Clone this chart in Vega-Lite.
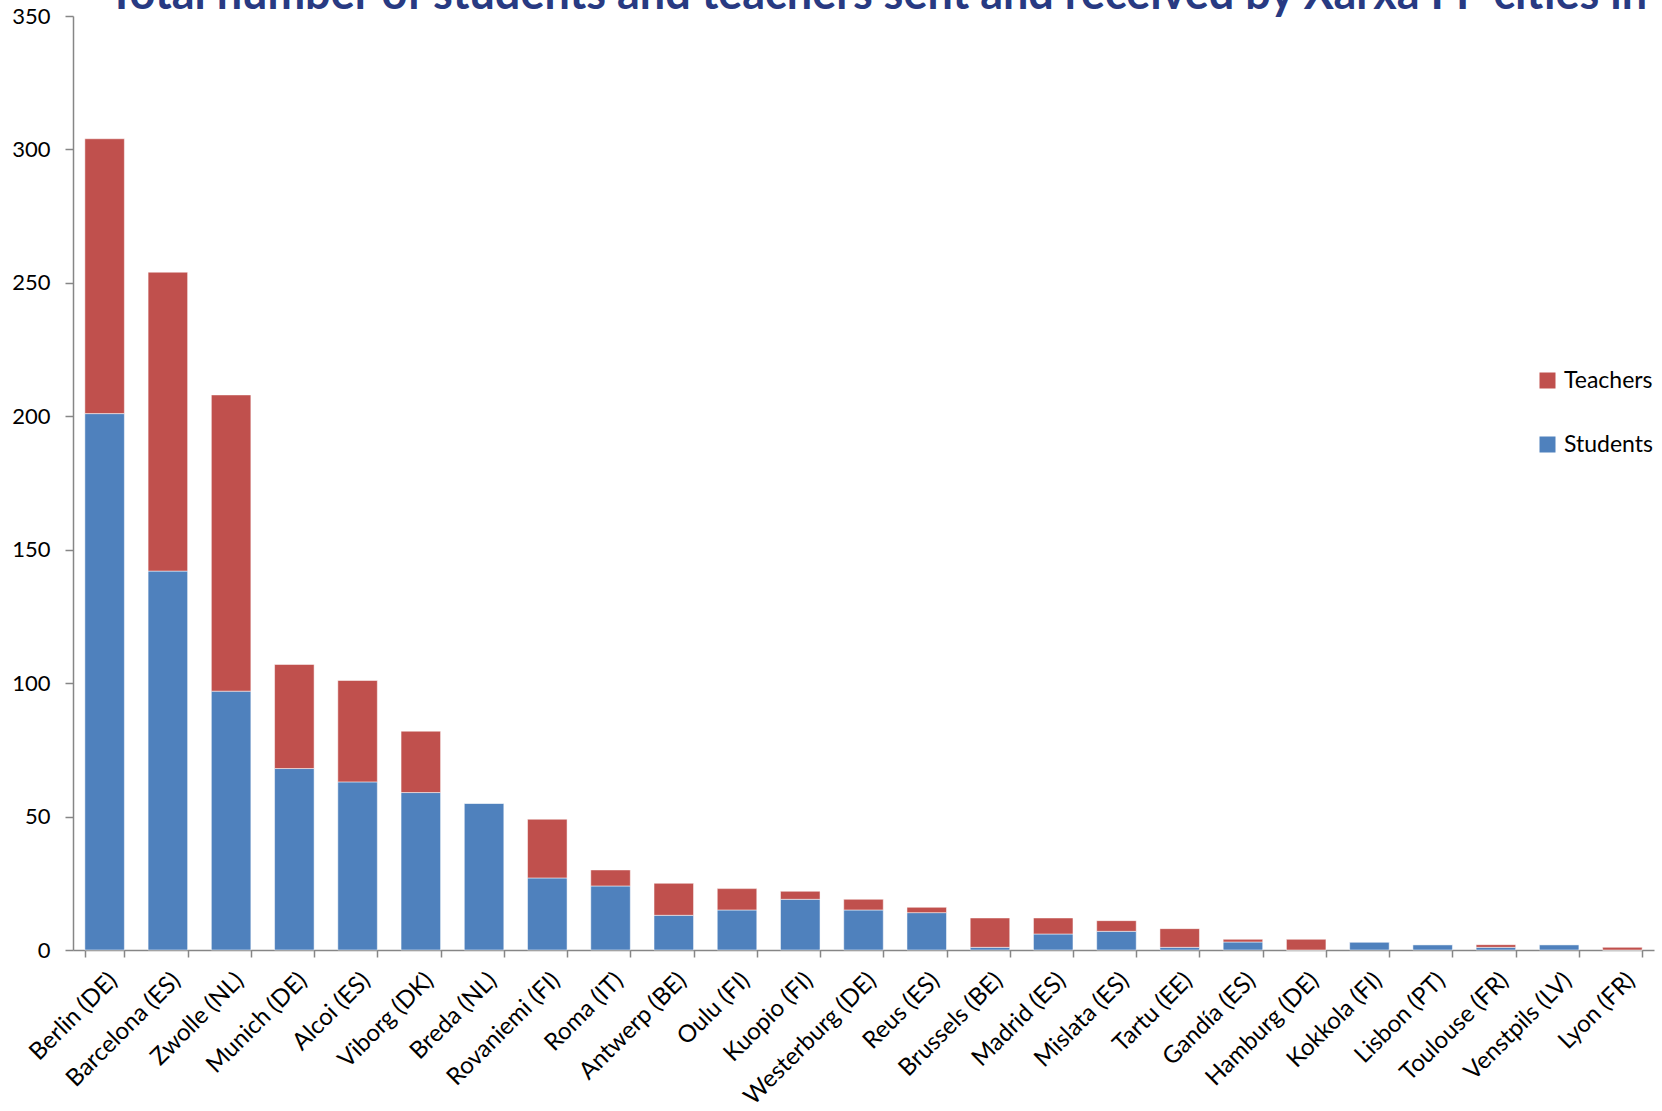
{
  "$schema": "https://vega.github.io/schema/vega-lite/v6.json",
  "autosize": {"type": "none"},
  "width": 1581,
  "height": 934,
  "padding": {"left": 73, "top": 16, "right": 8, "bottom": 161},
  "background": "white",
  "view": {"stroke": null},
  "title": {
    "text": "Total number of students and teachers sent and received by Xarxa FP cities in",
    "anchor": "start",
    "frame": "group",
    "font": "Lato",
    "fontWeight": "bold",
    "fontSize": 45,
    "color": "#283A82",
    "baseline": "alphabetic",
    "offset": 0,
    "dx": 35,
    "dy": 49,
    "limit": 0
  },
  "data": {
    "values": [
      {"city": "Berlin (DE)", "type": "Students", "value": 201},
      {"city": "Berlin (DE)", "type": "Teachers", "value": 103},
      {"city": "Barcelona (ES)", "type": "Students", "value": 142},
      {"city": "Barcelona (ES)", "type": "Teachers", "value": 112},
      {"city": "Zwolle (NL)", "type": "Students", "value": 97},
      {"city": "Zwolle (NL)", "type": "Teachers", "value": 111},
      {"city": "Munich (DE)", "type": "Students", "value": 68},
      {"city": "Munich (DE)", "type": "Teachers", "value": 39},
      {"city": "Alcoi (ES)", "type": "Students", "value": 63},
      {"city": "Alcoi (ES)", "type": "Teachers", "value": 38},
      {"city": "Viborg (DK)", "type": "Students", "value": 59},
      {"city": "Viborg (DK)", "type": "Teachers", "value": 23},
      {"city": "Breda (NL)", "type": "Students", "value": 55},
      {"city": "Breda (NL)", "type": "Teachers", "value": 0},
      {"city": "Rovaniemi (FI)", "type": "Students", "value": 27},
      {"city": "Rovaniemi (FI)", "type": "Teachers", "value": 22},
      {"city": "Roma (IT)", "type": "Students", "value": 24},
      {"city": "Roma (IT)", "type": "Teachers", "value": 6},
      {"city": "Antwerp (BE)", "type": "Students", "value": 13},
      {"city": "Antwerp (BE)", "type": "Teachers", "value": 12},
      {"city": "Oulu (FI)", "type": "Students", "value": 15},
      {"city": "Oulu (FI)", "type": "Teachers", "value": 8},
      {"city": "Kuopio (FI)", "type": "Students", "value": 19},
      {"city": "Kuopio (FI)", "type": "Teachers", "value": 3},
      {"city": "Westerburg (DE)", "type": "Students", "value": 15},
      {"city": "Westerburg (DE)", "type": "Teachers", "value": 4},
      {"city": "Reus (ES)", "type": "Students", "value": 14},
      {"city": "Reus (ES)", "type": "Teachers", "value": 2},
      {"city": "Brussels (BE)", "type": "Students", "value": 1},
      {"city": "Brussels (BE)", "type": "Teachers", "value": 11},
      {"city": "Madrid (ES)", "type": "Students", "value": 6},
      {"city": "Madrid (ES)", "type": "Teachers", "value": 6},
      {"city": "Mislata (ES)", "type": "Students", "value": 7},
      {"city": "Mislata (ES)", "type": "Teachers", "value": 4},
      {"city": "Tartu (EE)", "type": "Students", "value": 1},
      {"city": "Tartu (EE)", "type": "Teachers", "value": 7},
      {"city": "Gandía (ES)", "type": "Students", "value": 3},
      {"city": "Gandía (ES)", "type": "Teachers", "value": 1},
      {"city": "Hamburg (DE)", "type": "Students", "value": 0},
      {"city": "Hamburg (DE)", "type": "Teachers", "value": 4},
      {"city": "Kokkola (FI)", "type": "Students", "value": 3},
      {"city": "Kokkola (FI)", "type": "Teachers", "value": 0},
      {"city": "Lisbon (PT)", "type": "Students", "value": 2},
      {"city": "Lisbon (PT)", "type": "Teachers", "value": 0},
      {"city": "Toulouse (FR)", "type": "Students", "value": 1},
      {"city": "Toulouse (FR)", "type": "Teachers", "value": 1},
      {"city": "Venstpils (LV)", "type": "Students", "value": 2},
      {"city": "Venstpils (LV)", "type": "Teachers", "value": 0},
      {"city": "Lyon (FR)", "type": "Students", "value": 0},
      {"city": "Lyon (FR)", "type": "Teachers", "value": 1}
    ]
  },
  "mark": {"type": "bar", "stroke": "white", "strokeWidth": 1, "strokeOpacity": 0.5},
  "encoding": {
    "x": {
      "field": "city",
      "type": "nominal",
      "sort": null,
      "scale": {"paddingInner": 0.375, "paddingOuter": 0.1875},
      "axis": {
        "title": null,
        "labelAngle": -45,
        "labelAlign": "right",
        "labelBaseline": "top",
        "labelFont": "Lato",
        "labelFontSize": 24,
        "labelColor": "black",
        "labelPadding": 11,
        "labelLimit": 0,
        "labelOverlap": false,
        "tickBand": "extent",
        "tickSize": 7,
        "tickColor": "#868686",
        "tickWidth": 1.5,
        "domainColor": "#868686",
        "domainWidth": 1.5
      }
    },
    "y": {
      "field": "value",
      "type": "quantitative",
      "stack": "zero",
      "scale": {"domain": [0, 350], "nice": false},
      "axis": {
        "title": null,
        "values": [0, 50, 100, 150, 200, 250, 300, 350],
        "grid": false,
        "labelFont": "Lato",
        "labelFontSize": 22,
        "labelColor": "black",
        "labelPadding": 15,
        "tickSize": 8,
        "tickColor": "#868686",
        "tickWidth": 1.5,
        "domainColor": "#868686",
        "domainWidth": 1.5
      }
    },
    "color": {
      "field": "type",
      "type": "nominal",
      "scale": {"domain": ["Teachers", "Students"], "range": ["#C0504D", "#4F81BD"]},
      "legend": {
        "title": null,
        "orient": "none",
        "legendX": 1463,
        "legendY": 353,
        "symbolType": "square",
        "symbolSize": 256,
        "symbolStrokeWidth": 0,
        "labelFont": "Lato",
        "labelFontSize": 23,
        "labelColor": "black",
        "labelOffset": 5,
        "labelLimit": 0,
        "rowPadding": 40
      }
    },
    "order": {"field": "type", "sort": "ascending"}
  }
}
